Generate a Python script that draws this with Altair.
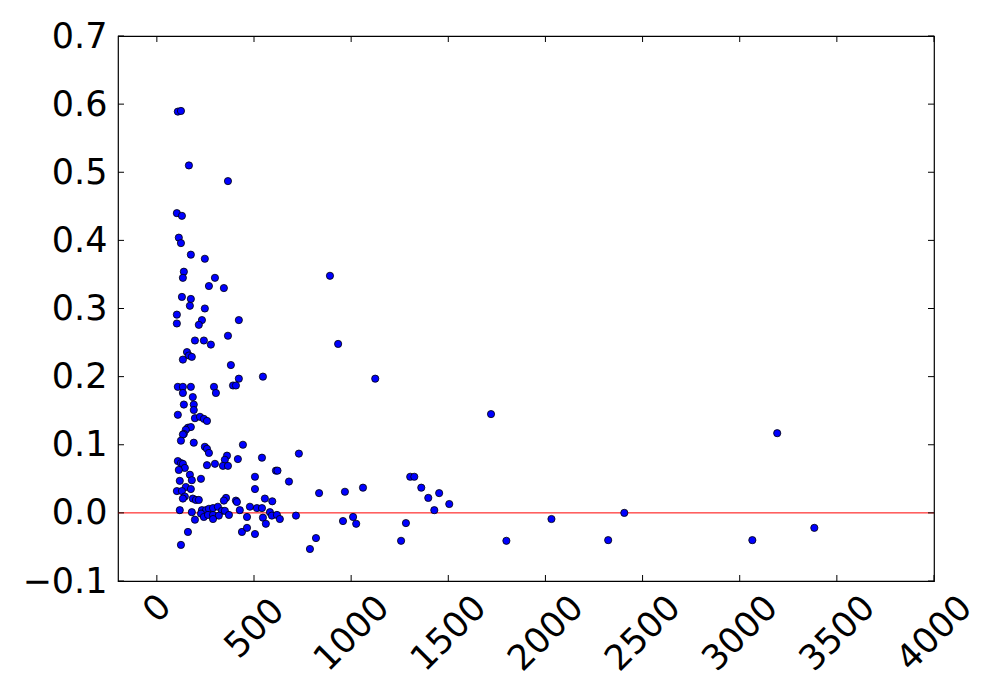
import altair as alt
import pandas as pd

# Scatter data (x, y)
x_vals = [108, 124, 165, 366, 103, 129, 113, 124, 175, 247,
          139, 134, 299, 268, 345, 129, 175, 170, 247, 103,
          103, 232, 216, 422, 366, 196, 242, 278, 155, 165,
          180, 134, 381, 422, 546, 891, 933, 1124, 1720, 3193,
          108, 134, 175, 294, 392, 407,
          134, 304, 185, 139, 190, 190, 108, 196, 222, 242,
          258, 160, 175, 149, 139, 134, 124, 190, 247, 258,
          268, 443, 361, 350, 299, 340, 366, 258, 417, 541,
          731, 108, 124, 134, 144, 113, 613, 621, 680, 170,
          180, 227, 505, 505, 118, 149, 175, 103, 129, 144,
          134, 185, 201, 216, 356, 345, 407, 412, 556, 594,
          835, 968, 1061, 1304, 1325, 1361, 1397, 1453, 1505, 1428,
          118, 180, 232, 253, 268, 289, 314, 335, 350, 427,
          479, 515, 541, 582, 227, 242, 263, 289, 319, 196,
          289, 371, 464, 546, 592, 618, 633, 561, 716, 958,
          1010, 1026, 1282, 2031, 2406, 160, 438, 464, 505, 124,
          819, 788, 1257, 1799, 2323, 3065, 3384]
y_vals = [0.589, 0.590, 0.510, 0.487, 0.440, 0.436, 0.404, 0.396, 0.379, 0.373,
          0.354, 0.345, 0.345, 0.333, 0.330, 0.317, 0.314, 0.304, 0.300, 0.291,
          0.278, 0.283, 0.276, 0.283, 0.260, 0.253, 0.253, 0.247, 0.236, 0.231,
          0.229, 0.225, 0.217, 0.197, 0.200, 0.348, 0.248, 0.197, 0.145, 0.117,
          0.185, 0.185, 0.185, 0.185, 0.187, 0.187,
          0.176, 0.176, 0.170, 0.159, 0.159, 0.151, 0.144, 0.139, 0.141, 0.138,
          0.135, 0.125, 0.126, 0.122, 0.116, 0.115, 0.106, 0.103, 0.097, 0.094,
          0.088, 0.100, 0.084, 0.078, 0.072, 0.069, 0.069, 0.070, 0.079, 0.081,
          0.087, 0.076, 0.073, 0.072, 0.066, 0.063, 0.062, 0.062, 0.046, 0.056,
          0.048, 0.050, 0.053, 0.035, 0.047, 0.038, 0.035, 0.032, 0.032, 0.024,
          0.021, 0.021, 0.019, 0.019, 0.022, 0.018, 0.018, 0.016, 0.021, 0.017,
          0.029, 0.031, 0.037, 0.053, 0.053, 0.037, 0.022, 0.029, 0.013, 0.004,
          0.004, 0.001, 0.004, 0.004, 0.006, 0.007, 0.009, 0.003, 0.003, 0.004,
          0.009, 0.007, 0.007, 0.001, -0.001, -0.006, -0.003, -0.003, -0.004, -0.010,
          -0.009, -0.003, -0.006, -0.007, -0.004, -0.003, -0.009, -0.016, -0.004, -0.012,
          -0.006, -0.016, -0.015, -0.009, 0.000, -0.028, -0.028, -0.022, -0.031, -0.047,
          -0.037, -0.053, -0.041, -0.041, -0.040, -0.040, -0.022]

x_ticks = [0, 500, 1000, 1500, 2000, 2500, 3000, 3500, 4000]
y_ticks = [-0.1, 0.0, 0.1, 0.2, 0.3, 0.4, 0.5, 0.6, 0.7]
x_domain = [-200, 4000]
y_domain = [-0.1, 0.7]
ref_y = [0.0]

W, H = 816, 545
FONT = "DejaVu Sans"
FS = 35

df = pd.DataFrame({"x": x_vals, "y": y_vals})
xt = pd.DataFrame({"v": x_ticks})
yt = pd.DataFrame({"v": y_ticks})
ref = pd.DataFrame({"y": ref_y})

xscale = alt.Scale(domain=x_domain, nice=False, zero=False)
yscale = alt.Scale(domain=y_domain, nice=False, zero=False)

x_axis = alt.Axis(
    values=x_ticks, title=None, grid=False, ticks=False, tickSize=0, domain=False,
    format="d",
    labelAngle=-45, labelAlign="center", labelBaseline="middle",
    labelFontSize=FS, labelFont=FONT, labelColor="black",
    labelFlush=False, labelOverlap=False, labelBound=False,
    labelPadding={"condition": [{"test": "datum.value < 100", "value": 27},
                                {"test": "datum.value < 1000", "value": 47}],
                  "value": 52},
)
y_axis = alt.Axis(
    values=y_ticks, title=None, grid=False, ticks=False, tickSize=0, domain=False,
    format=".1f", labelFontSize=FS, labelFont=FONT, labelColor="black",
    labelPadding=11, labelFlush=False, labelOverlap=False,
)

points = alt.Chart(df).mark_circle(
    size=52, color="#0000ff", opacity=1, stroke="black", strokeWidth=0.8
).encode(
    x=alt.X("x:Q", scale=xscale, axis=x_axis),
    y=alt.Y("y:Q", scale=yscale, axis=y_axis),
)

zero_line = alt.Chart(ref).mark_rule(color="#ff0000", strokeWidth=1).encode(
    y=alt.Y("y:Q", scale=yscale)
)

TL = 6
bt = alt.Chart(xt).mark_rule(color="black", strokeWidth=1).encode(
    x=alt.X("v:Q", scale=xscale), y=alt.value(H), y2=alt.value(H - TL))
tt = alt.Chart(xt).mark_rule(color="black", strokeWidth=1).encode(
    x=alt.X("v:Q", scale=xscale), y=alt.value(0), y2=alt.value(TL))
lt = alt.Chart(yt).mark_rule(color="black", strokeWidth=1).encode(
    y=alt.Y("v:Q", scale=yscale), x=alt.value(0), x2=alt.value(TL))
rt = alt.Chart(yt).mark_rule(color="black", strokeWidth=1).encode(
    y=alt.Y("v:Q", scale=yscale), x=alt.value(W), x2=alt.value(W - TL))

chart = alt.layer(zero_line, points, bt, tt, lt, rt).properties(
    width=W, height=H,
    background="white",
    autosize=alt.AutoSizeParams(type="none"),
    padding={"left": 110, "top": 28, "right": 50, "bottom": 100},
).configure_view(
    stroke="black", strokeWidth=1.2, fill="white"
)

chart.save("out.html", embed_options={"renderer": "svg", "actions": False})
